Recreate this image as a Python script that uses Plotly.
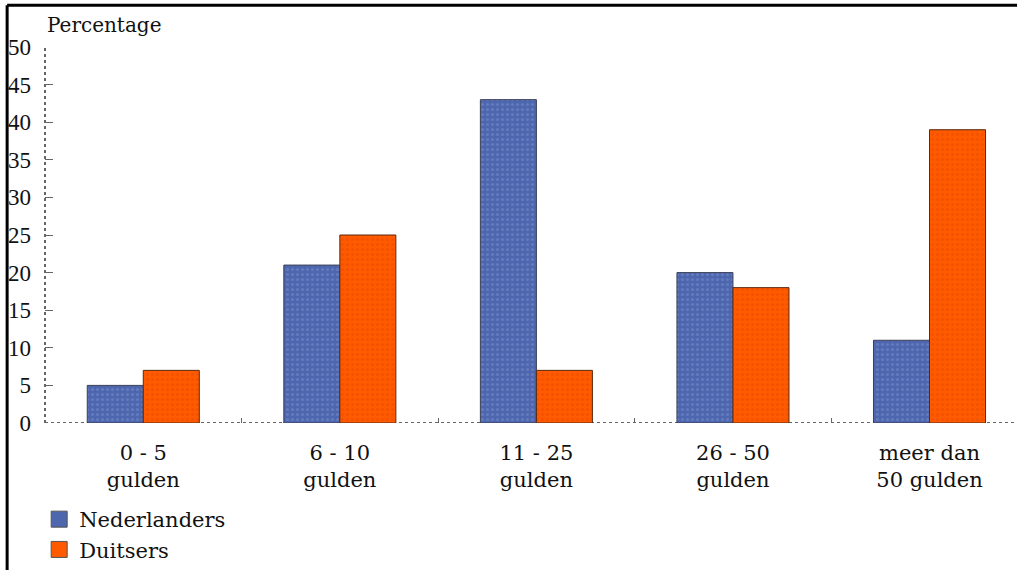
import plotly.graph_objects as go

categories = ["0 - 5<br>gulden", "6 - 10<br>gulden", "11 - 25<br>gulden", "26 - 50<br>gulden", "meer dan<br>50 gulden"]
nederlanders = [5, 21, 43, 20, 11]
duitsers = [7, 25, 7, 18, 39]
y_ticks = [0, 5, 10, 15, 20, 25, 30, 35, 40, 45, 50]

BLUE = "#4d66ad"
ORANGE = "#ff5a00"
FONT = "DejaVu Serif, Liberation Serif, Times New Roman, serif"
TICKFONT = "Liberation Serif, Times New Roman, DejaVu Serif, serif"

fig = go.Figure()
fig.add_trace(go.Bar(
    x=categories, y=nederlanders, name="Nederlanders", showlegend=False, legendgroup="nl",
    marker=dict(color=BLUE, line=dict(color="#3a3f55", width=1),
                pattern=dict(shape=".", fgcolor="#7a8fd0", size=5, solidity=0.3)),
))
fig.add_trace(go.Bar(
    x=categories, y=duitsers, name="Duitsers", showlegend=False, legendgroup="du",
    marker=dict(color=ORANGE, line=dict(color="#5a2a10", width=1),
                pattern=dict(shape=".", fgcolor="#e84800", size=5, solidity=0.3)),
))
# legend entries with larger square swatches
fig.add_trace(go.Scatter(x=[None], y=[None], mode="markers", name="Nederlanders", legendgroup="nl",
                         marker=dict(symbol="square", size=16, color=BLUE, line=dict(color="#555", width=1))))
fig.add_trace(go.Scatter(x=[None], y=[None], mode="markers", name="Duitsers", legendgroup="du",
                         marker=dict(symbol="square", size=16, color=ORANGE, line=dict(color="#555", width=1))))

fig.update_layout(
    width=1017, height=570,
    margin=dict(l=45, r=1, t=47, b=146),
    paper_bgcolor="white", plot_bgcolor="white",
    font=dict(family=FONT, size=21, color="#111"),
    barmode="group", bargap=0.43, bargroupgap=0,
    showlegend=True,
    legend=dict(x=-0.006, y=-0.2, xanchor="left", yanchor="top", orientation="v",
                itemsizing="trace", font=dict(family=FONT, size=21), tracegroupgap=0,
                bgcolor="rgba(0,0,0,0)"),
    xaxis=dict(range=[-0.5, 4.44], showgrid=False, zeroline=False, showline=False,
               ticks="inside", tickson="boundaries", ticklen=5, tickcolor="#666",
               ticklabelstandoff=15,
               tickfont=dict(family=FONT, size=21), fixedrange=True),
    yaxis=dict(range=[0, 50], tickvals=y_ticks, showgrid=False, zeroline=False, showline=False,
               ticks="inside", ticklen=8, tickcolor="#666", ticklabelstandoff=13,
               tickfont=dict(family=TICKFONT, size=23), fixedrange=True),
    annotations=[dict(text="Percentage", xref="paper", yref="paper", x=0, y=1, xanchor="left",
                      yanchor="bottom", yshift=8, showarrow=False,
                      font=dict(family=FONT, size=20, color="#111"))],
    shapes=[
        dict(type="line", xref="paper", yref="y", x0=0, x1=1, y0=0, y1=0,
             line=dict(color="#666", width=2, dash="dot"), layer="below"),
        dict(type="line", xref="paper", yref="paper", x0=0, x1=0, y0=0, y1=1,
             line=dict(color="#666", width=2, dash="dot"), layer="below"),
        dict(type="line", xref="paper", yref="paper", x0=-0.039, x1=-0.039, y0=1.111, y1=-0.4,
             line=dict(color="black", width=3)),
        dict(type="line", xref="paper", yref="paper", x0=-0.039, x1=1.01, y0=1.111, y1=1.111,
             line=dict(color="black", width=3)),
    ],
)

fig.write_html("out.html", config={"displayModeBar": False},
               post_script="document.body.style.margin='0px';")
